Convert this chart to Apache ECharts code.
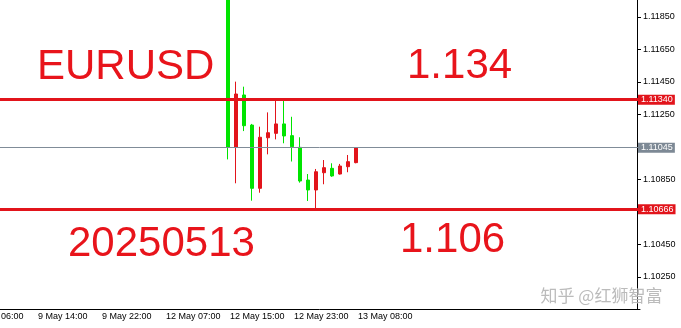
<!DOCTYPE html>
<html><head><meta charset="utf-8">
<script src="https://cdn.jsdelivr.net/npm/echarts@6/dist/echarts.min.js"></script>
<style>html,body{margin:0;padding:0;background:#fff}#c{width:681px;height:328px}</style>
</head><body><div id="c"></div>
<script>
// Hourly sessions shown on the time axis (day, first hour, last hour)
const sessions = [['9 May', 6, 23], ['12 May', 1, 23], ['13 May', 1, 8]];
const futureSlots = 35;              // empty bars right of the last candle
const firstCandle = '12 May 15:00';  // first candle visible in range

// Candles (hourly)
const opens  = [1.1225, 1.11047, 1.11369, 1.11184, 1.10795, 1.11106, 1.11133, 1.11191, 1.11119, 1.11047, 1.10846, 1.10785, 1.10891, 1.10918, 1.10883, 1.10928, 1.10953];
const closes = [1.11047, 1.11375, 1.11180, 1.10795, 1.11109, 1.11137, 1.11191, 1.11117, 1.11051, 1.10840, 1.10785, 1.10897, 1.10922, 1.10871, 1.10932, 1.10959, 1.11045];
const lows   = [1.10973, 1.10826, 1.11147, 1.10719, 1.10768, 1.11004, 1.11096, 1.11072, 1.10960, 1.10830, 1.10717, 1.10662, 1.10820, 1.10866, 1.10880, 1.10894, 1.10949];
const highs  = [1.1228, 1.11451, 1.11420, 1.11191, 1.11174, 1.11262, 1.11344, 1.11350, 1.11235, 1.11109, 1.10883, 1.10914, 1.10969, 1.10949, 1.10945, 1.11000, 1.11045];

const yTicks = [1.1025, 1.1045, 1.1085, 1.1125, 1.1145, 1.1165, 1.1185];
const levels = [1.1134, 1.10666];
const lastPrice = 1.11045;
const yMin = 1.10053, yMax = 1.11953;

const symbolText = 'EURUSD';
const dateText = '20250513';
const upperText = '1.134';
const lowerText = '1.106';
const watermark = '知乎 @红狮智富';

const RED = '#e2141b', GREEN = '#00e400', TXT = '#e8141b';

const categories = [];
sessions.forEach(([d, a, b]) => { for (let h = a; h <= b; h++) categories.push(d + ' ' + String(h).padStart(2, '0') + ':00'); });
for (let i = 0; i < futureSlots; i++) categories.push('');

const start = categories.indexOf(firstCandle);
const candleData = categories.map((c, i) => {
  const k = i - start;
  if (k < 0 || k >= opens.length) return '-';
  return [opens[k], closes[k], lows[k], highs[k]];
});

const showIdx = (idx, val) => idx % 8 === 0 && val !== '';

const chart = echarts.init(document.getElementById('c'), null, {renderer: 'canvas'});
chart.setOption({
  animation: false,
  backgroundColor: '#fff',
  grid: {left: -32, right: 41, top: 0, bottom: 19, containLabel: false, outerBoundsMode: 'none'},
  xAxis: {
    type: 'category', data: categories, boundaryGap: true,
    axisLine: {lineStyle: {color: '#000', width: 1}},
    axisTick: {alignWithLabel: true, interval: showIdx, length: 4, lineStyle: {color: '#000'}},
    axisLabel: {interval: showIdx, align: 'left', fontSize: 9, color: '#000', margin: 3,
      fontFamily: 'Liberation Sans', padding: [0, 0, 0, 2], hideOverlap: false},
    splitLine: {show: false}
  },
  yAxis: {
    type: 'value', position: 'right', min: yMin, max: yMax, offset: -3,
    axisLine: {show: true, lineStyle: {color: '#000', width: 1}},
    axisTick: {show: true, length: 4, customValues: yTicks, lineStyle: {color: '#000'}},
    axisLabel: {customValues: yTicks, formatter: v => v.toFixed(5), fontSize: 9, color: '#000',
      margin: 6, fontFamily: 'Liberation Sans'},
    splitLine: {show: false}
  },
  series: [{
    type: 'candlestick', data: candleData, barWidth: 4, clip: true,
    itemStyle: {color: RED, color0: GREEN, borderColor: RED, borderColor0: GREEN, borderWidth: 1},
    markLine: {
      silent: true, symbol: 'none', animation: false, precision: 5,
      data: [
        ...levels.map(v => ({yAxis: v, lineStyle: {color: RED, width: 3, type: 'solid'},
          label: {backgroundColor: RED}})),
        {yAxis: lastPrice, lineStyle: {color: '#808c98', width: 1, type: 'solid'},
          label: {backgroundColor: '#7d8995'}}
      ],
      label: {position: 'end', distance: -2, formatter: p => Number(p.value).toFixed(5),
        color: '#fff', fontSize: 9, fontFamily: 'Liberation Sans', padding: [1, 2, 0, 3], lineHeight: 9}
    }
  }],
  graphic: [
    {type: 'text', left: 37, top: 46, style: {text: symbolText, font: '42px "Liberation Sans"', fill: TXT}},
    {type: 'text', left: 407, top: 45, style: {text: upperText, font: '42px "Liberation Sans"', fill: TXT}},
    {type: 'text', left: 68, top: 223, style: {text: dateText, font: '42px "Liberation Sans"', fill: TXT}},
    {type: 'text', left: 400, top: 219, style: {text: lowerText, font: '42px "Liberation Sans"', fill: TXT}},
    {type: 'text', left: 540, top: 287, z: 100, style: {text: watermark, font: '17px "Noto Sans CJK SC"',
      fill: 'rgba(170,170,170,0.8)', stroke: 'rgba(255,255,255,0.6)', lineWidth: 1}}
  ]
});
</script></body></html>
